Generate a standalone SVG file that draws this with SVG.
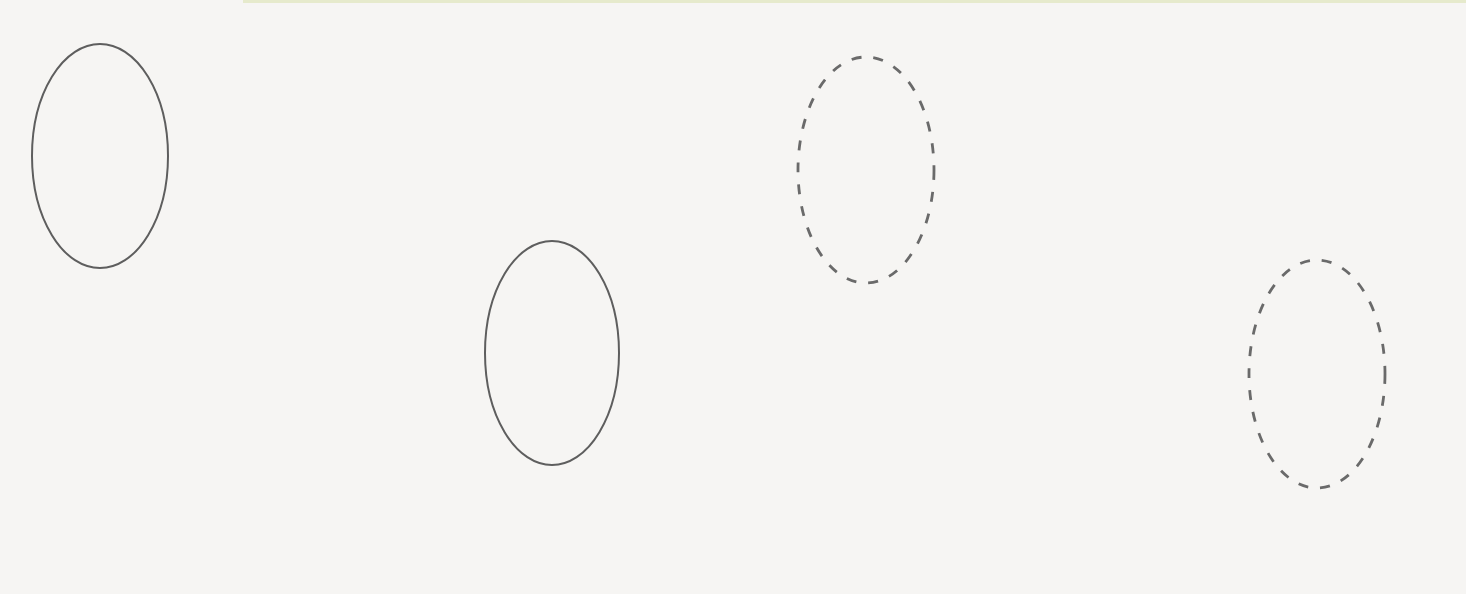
<svg xmlns="http://www.w3.org/2000/svg" width="1466" height="594" viewBox="0 0 1466 594">
<style>
.solid{fill:none;stroke:#5e5e5e;stroke-width:2}
.dash{fill:none;stroke:#6a6a6a;stroke-width:2.8;stroke-dasharray:10 12}
</style>
<rect x="0" y="0" width="1466" height="594" fill="#f6f5f3"/>
<rect x="243" y="0" width="1223" height="3" fill="#e6eacc"/>
<g id="ellipse1"><ellipse class="solid" cx="100" cy="156" rx="68" ry="112"/></g>
<g id="ellipse2"><ellipse class="solid" cx="552" cy="353" rx="67" ry="112"/></g>
<g id="ellipse3"><ellipse class="dash" cx="866" cy="170" rx="68" ry="113"/></g>
<g id="ellipse4"><ellipse class="dash" cx="1317" cy="374" rx="68" ry="114"/></g>
<g id="connectors"></g>
</svg>
